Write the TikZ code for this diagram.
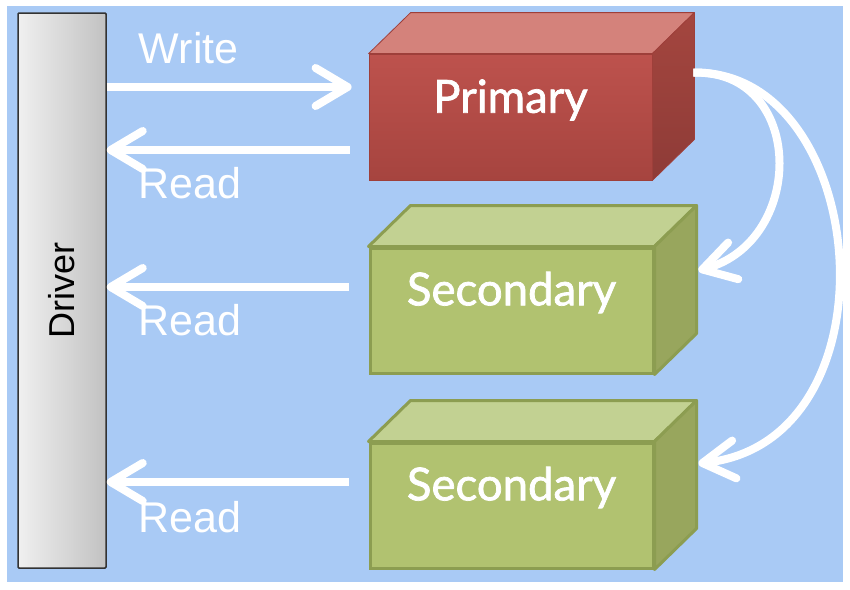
\documentclass[tikz,border=0pt]{standalone}
\usepackage{fontspec}
\setmainfont{Liberation Sans}
\newfontfamily\boxfont[FakeBold=1.6]{Lato}
\usetikzlibrary{arrows.meta,calc}
\definecolor{bg}{HTML}{A9CAF5}
\definecolor{redfront}{HTML}{BD524D}
\definecolor{redfrontb}{HTML}{A6443F}
\definecolor{redtop}{HTML}{D4827B}
\definecolor{redside}{HTML}{A4463F}
\definecolor{redsideb}{HTML}{8E3B37}
\definecolor{redline}{HTML}{9E3F3A}
\definecolor{grnfront}{HTML}{B1C270}
\definecolor{grntop}{HTML}{C2D192}
\definecolor{grnside}{HTML}{98A65D}
\definecolor{grnline}{HTML}{8C9D51}
\tikzset{
  driverbar/.style={draw=black!80, line width=1.5pt, rounded corners=1pt,
    left color=gray!12, right color=gray!48, minimum width=88pt,
    minimum height=555pt, inner sep=0pt},
  drivertxt/.style={rotate=90, font=\fontsize{36}{40}\selectfont, text=black},
  primfront/.style={minimum width=283pt, minimum height=126pt, inner sep=0pt,
    top color=redfront, bottom color=redfrontb, draw=redline, line width=0.8pt},
  primtop/.style={fill=redtop, draw=redline, line width=0.8pt, line join=round},
  primside/.style={top color=redside, bottom color=redsideb, draw=redline, line width=0.8pt, line join=round},
  secfront/.style={minimum width=283pt, minimum height=125pt, inner sep=0pt,
    fill=grnfront, draw=grnline, line width=3pt},
  sectop/.style={fill=grntop, draw=grnline, line width=3pt, line join=round},
  secside/.style={fill=grnside, draw=grnline, line width=3pt, line join=round},
  boxlabel/.style={text=white, font=\boxfont\fontsize{45.5}{50}\selectfont},
  flowlabel/.style={text=white, font=\fontsize{43}{46}\selectfont, anchor=base west, inner sep=0pt},
  arr/.style={draw=white, line width=8pt,
    -{Straight Barb[length=32pt,width=38pt,round]}},
}
\begin{document}
\begin{tikzpicture}[x=1pt,y=-1pt]
\useasboundingbox (0,0) rectangle (850,589);
\fill[white] (0,0) rectangle (850,589);
\fill[bg] (7,6) rectangle (843,582);

% driver
\node[driverbar] (driver) at (62,290.5) {};
\node[drivertxt] (drivertext) at (62,290) {Driver};

% primary box
\node[primfront] (prim) at (510.5,117) {};
\path[primtop] (prim.north west) -- ++(42,-41) -- ($(prim.north east)+(42,-41)$) -- (prim.north east) -- cycle;
\path[primside] (prim.north east) -- ++(42,-41) -- ($(prim.south east)+(42,-41)$) -- (prim.south east) -- cycle;
\node[boxlabel] (primlabel) at ($(prim.center)+(0,-17)$) {Primary};

% secondary 1
\node[secfront] (sec1) at (511.5,310.5) {};
\path[sectop] (sec1.north west) -- ++(42,-41) -- ($(sec1.north east)+(42,-41)$) -- (sec1.north east) -- cycle;
\path[secside] (sec1.north east) -- ++(42,-41) -- ($(sec1.south east)+(42,-41)$) -- (sec1.south east) -- cycle;
\node[boxlabel] (sec1label) at ($(sec1.center)+(0,-18)$) {Secondary};

% secondary 2
\node[secfront] (sec2) at (511.5,505.5) {};
\path[sectop] (sec2.north west) -- ++(42,-41) -- ($(sec2.north east)+(42,-41)$) -- (sec2.north east) -- cycle;
\path[secside] (sec2.north east) -- ++(42,-41) -- ($(sec2.south east)+(42,-41)$) -- (sec2.south east) -- cycle;
\node[boxlabel] (sec2label) at ($(sec2.center)+(0,-18)$) {Secondary};

% straight arrows
\coordinate (w) at ($(prim.west)+(-17,-30)$);
\coordinate (r1) at ($(prim.west)+(-19,33)$);
\coordinate (r2) at ($(sec1.west)+(-20,-23.5)$);
\coordinate (r3) at ($(sec2.west)+(-20,-23.5)$);
\draw[arr] (driver.east |- w) -- (w);
\draw[arr] (r1) -- (driver.east |- r1);
\draw[arr] (r2) -- (driver.east |- r2);
\draw[arr] (r3) -- (driver.east |- r3);

\node[flowlabel] (wlabel) at ($(driver.east |- w)+(32,-24)$) {Write};
\node[flowlabel] (r1label) at ($(driver.east |- r1)+(32,48)$) {Read};
\node[flowlabel] (r2label) at ($(driver.east |- r2)+(32,48)$) {Read};
\node[flowlabel] (r3label) at ($(driver.east |- r3)+(32,50)$) {Read};

% curved replication arrows
\coordinate (cstart) at ($(prim.north east)+(41,19)$);
\coordinate (c1end) at ($(sec1.east)+(44,-40)$);
\coordinate (c2end) at ($(sec2.east)+(44,-42)$);
\draw[arr] (cstart) .. controls ($(cstart)+(112,-3)$) and ($(c1end)+(108,-30)$) .. (c1end);
\draw[arr] (cstart) .. controls ($(cstart)+(177,-3)$) and ($(c2end)+(203,-23)$) .. (c2end);
\end{tikzpicture}
\end{document}
